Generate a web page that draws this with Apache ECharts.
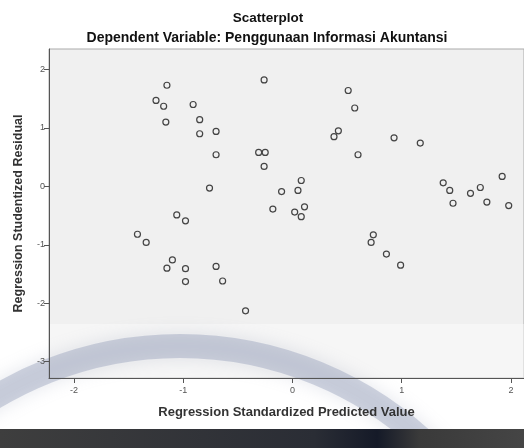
<!DOCTYPE html>
<html>
<head>
<meta charset="utf-8">
<script src="https://cdn.jsdelivr.net/npm/echarts@6/dist/echarts.min.js"></script>
<style>
  html, body { margin: 0; padding: 0; background: #fff; }
  #chart { width: 524px; height: 448px; }
</style>
</head>
<body>
<div id="chart"></div>
<script>
// predicted values (x) and studentized residuals (y)
var predicted = [
  -1.15, -0.26, -1.25, -1.18, -0.91, -1.16, -0.85, -0.85, -0.70, -0.70,
  -0.31, -0.25, -0.26, -0.76, -0.10, -0.18, -1.06, -0.98, -1.42, -1.34,
  -1.10, -1.15, -0.98, -0.70, -0.98, -0.64, -0.43,
  0.51, 0.57, 0.42, 0.38, 0.60, 0.93, 1.17,
  0.08, 0.05, 0.11, 0.02, 0.08,
  0.74, 0.72, 0.86, 0.99,
  1.38, 1.44, 1.47, 1.63, 1.72, 1.78, 1.92, 1.98
];
var residual = [
  1.73, 1.82, 1.47, 1.37, 1.40, 1.10, 1.14, 0.90, 0.94, 0.54,
  0.58, 0.58, 0.34, -0.03, -0.09, -0.39, -0.49, -0.59, -0.82, -0.96,
  -1.26, -1.40, -1.41, -1.37, -1.63, -1.62, -2.13,
  1.64, 1.34, 0.95, 0.85, 0.54, 0.83, 0.74,
  0.10, -0.07, -0.35, -0.44, -0.52,
  -0.83, -0.96, -1.16, -1.35,
  0.06, -0.07, -0.29, -0.12, -0.02, -0.27, 0.17, -0.33
];
var xTicks = [-2, -1, 0, 1, 2];
var yTicks = [-3, -2, -1, 0, 1, 2];

var points = predicted.map(function (v, i) { return [v, residual[i]]; });

var chart = echarts.init(document.getElementById('chart'));
chart.setOption({
  animation: false,
  title: [
    {
      text: 'Scatterplot',
      left: 263, textAlign: 'center', top: 6,
      textStyle: { fontFamily: 'Liberation Sans', fontSize: 13.5, fontWeight: 'bold', color: '#111' }
    },
    {
      text: 'Dependent Variable: Penggunaan Informasi Akuntansi',
      left: 262, textAlign: 'center', top: 26,
      textStyle: { fontFamily: 'Liberation Sans', fontSize: 14, fontWeight: 'bold', color: '#111' }
    }
  ],
  grid: {
    left: 49, top: 49, right: 0, bottom: 70, z: 0,
    show: true, backgroundColor: '#f0f0f0', borderColor: '#aaa', borderWidth: 1
  },
  xAxis: {
    type: 'value', z: 3,
    min: -2.23, max: 2.12,
    name: 'Regression Standardized Predicted Value',
    nameLocation: 'middle', nameGap: 28,
    nameTextStyle: { fontFamily: 'Liberation Sans', fontSize: 13, fontWeight: 'bold', color: '#333' },
    axisLine: { onZero: false, lineStyle: { color: '#555', width: 1 } },
    axisTick: { show: true, length: 5, customValues: xTicks, lineStyle: { color: '#555' } },
    axisLabel: { customValues: xTicks, fontFamily: 'Liberation Sans', fontSize: 9, color: '#555', margin: 8 },
    splitLine: { show: false }
  },
  yAxis: {
    type: 'value', z: 3,
    min: -3.28, max: 2.35,
    name: 'Regression Studentized Residual',
    nameLocation: 'middle', nameGap: 24,
    nameTextStyle: { fontFamily: 'Liberation Sans', fontSize: 12.5, fontWeight: 'bold', color: '#333' },
    axisLine: { show: true, onZero: false, lineStyle: { color: '#555', width: 1 } },
    axisTick: { show: true, length: 5, customValues: yTicks, lineStyle: { color: '#555' } },
    axisLabel: { customValues: yTicks, fontFamily: 'Liberation Sans', fontSize: 9, color: '#555', margin: 4 },
    splitLine: { show: false }
  },
  series: [{
    type: 'scatter', z: 4,
    data: points,
    symbol: 'circle',
    symbolSize: 6,
    itemStyle: { color: 'rgba(0,0,0,0)', borderColor: '#444', borderWidth: 1.2, opacity: 1 }
  }],
  graphic: [
    {
      // faded lower part of the photo, plot area only
      type: 'rect', z: 1, silent: true,
      shape: { x: 50, y: 324, width: 474, height: 54 },
      style: { fill: 'rgba(255,255,255,0.4)' }
    },
    {
      // blurry ring reflection
      type: 'arc', z: 2, silent: true,
      shape: { cx: 180, cy: 706, r: 360, startAngle: Math.PI * 1.0, endAngle: Math.PI * 1.75 },
      style: { stroke: 'rgba(140,150,178,0.38)', lineWidth: 24, fill: null, shadowBlur: 18, shadowColor: 'rgba(140,150,178,0.6)' }
    },
    {
      type: 'rect', z: 10, silent: true,
      shape: { x: 0, y: 429, width: 524, height: 19 },
      style: {
        fill: new echarts.graphic.LinearGradient(0, 0, 1, 0, [
          { offset: 0, color: '#3e3e3e' },
          { offset: 0.6, color: '#2a2d35' },
          { offset: 0.72, color: '#151a28' },
          { offset: 0.8, color: '#3a3a3a' },
          { offset: 1, color: '#454545' }
        ])
      }
    }
  ]
});
</script>
</body>
</html>
